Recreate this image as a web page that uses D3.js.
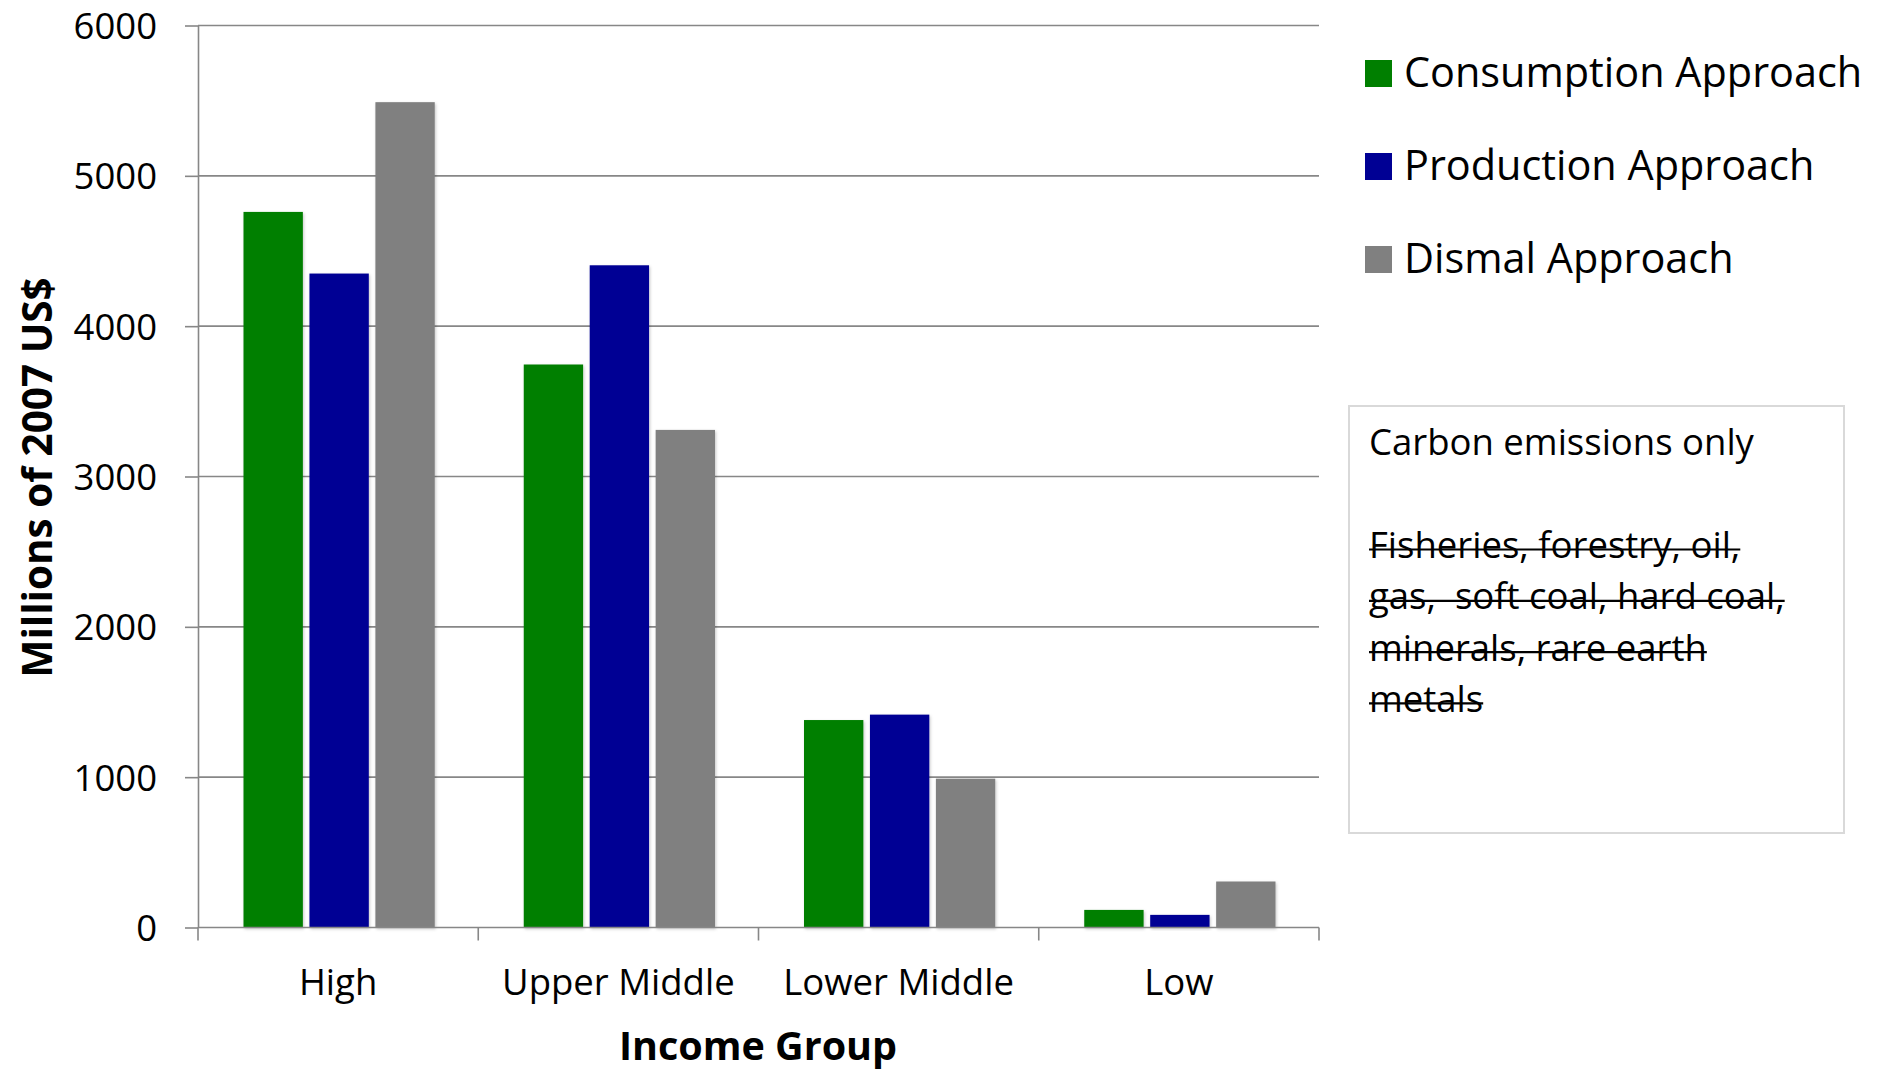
<!DOCTYPE html>
<html>
<head>
<meta charset="utf-8">
<script src="https://cdn.jsdelivr.net/npm/d3@7"></script>
<style>
  html, body { margin: 0; padding: 0; background: #fff; }
  svg { display: block; font-family: "Open Sans", sans-serif; }
  .keep-space { white-space: pre; }
</style>
</head>
<body>
<svg id="chart" width="1883" height="1071"></svg>
<script>
// Income groups along the x axis
const categories = ["High", "Upper Middle", "Lower Middle", "Low"];

// Series values, millions of 2007 US$
const consumption = [4760, 3745, 1380, 117];
const production  = [4350, 4405, 1416, 84];
const dismal      = [5490, 3310, 990, 306];

const seriesNames  = ["Consumption Approach", "Production Approach", "Dismal Approach"];
const seriesColors = ["#007f00", "#000094", "#808080"];

// Y axis ticks
const yTicks = [0, 1000, 2000, 3000, 4000, 5000, 6000];

// Note box text
const noteTitle = "Carbon emissions only";
const noteStruck = ["Fisheries, forestry, oil,", "gas,  soft coal, hard coal,", "minerals, rare earth", "metals"];

const seriesValues = [consumption, production, dismal];
const rows = categories.map((c, i) => ({
  category: c,
  values: seriesNames.map((s, k) => ({ series: s, value: seriesValues[k][i], color: seriesColors[k] }))
}));

const svg = d3.select("#chart");
const plot = { left: 198, right: 1319, top: 25.5, bottom: 927.5 };
const gridColor = "#878787";

const x = d3.scaleBand().domain(categories).range([plot.left, plot.right]).paddingInner(0).paddingOuter(0);
const xInner = d3.scaleBand().domain(seriesNames).range([45.5, x.bandwidth() - 43.5]).paddingInner(0.1);
const y = d3.scaleLinear().domain([0, 6000]).range([plot.bottom, plot.top]);

// soft shadow under bars
const defs = svg.append("defs");
const f = defs.append("filter").attr("id", "barShadow").attr("x", "-10%").attr("y", "-10%").attr("width", "130%").attr("height", "130%");
f.append("feDropShadow").attr("dx", 1).attr("dy", 1.5).attr("stdDeviation", 1.5).attr("flood-color", "#000").attr("flood-opacity", 0.22);

// horizontal gridlines
svg.append("g").selectAll("line").data(yTicks.filter(d => d > 0)).join("line")
  .attr("x1", plot.left).attr("x2", plot.right)
  .attr("y1", d => y(d)).attr("y2", d => y(d))
  .attr("stroke", gridColor).attr("stroke-width", 1.6);

// bars
svg.append("g").selectAll("g").data(rows).join("g")
  .attr("transform", d => `translate(${x(d.category)},0)`)
  .selectAll("rect").data(d => d.values).join("rect")
  .attr("x", d => xInner(d.series))
  .attr("width", xInner.bandwidth())
  .attr("y", d => y(d.value))
  .attr("height", d => y(0) - y(d.value))
  .attr("fill", d => d.color)
  .attr("filter", "url(#barShadow)");

// y axis
const yAxis = svg.append("g").attr("transform", `translate(${plot.left},0)`)
  .call(d3.axisLeft(y).tickValues(yTicks).tickFormat(d3.format("d")).tickSize(13).tickPadding(28).tickSizeOuter(0));
yAxis.select(".domain").attr("stroke", gridColor).attr("stroke-width", 1.6);
yAxis.selectAll(".tick line").attr("stroke", gridColor).attr("stroke-width", 1.6);
yAxis.selectAll(".tick text").attr("font-size", 36.5).attr("font-family", "Open Sans").attr("fill", "#000").attr("dy", "0.36em");

// x axis with ticks at category boundaries
const xAxis = svg.append("g").attr("transform", `translate(0,${plot.bottom})`);
xAxis.append("line").attr("x1", plot.left).attr("x2", plot.right).attr("y1", 0).attr("y2", 0)
  .attr("stroke", gridColor).attr("stroke-width", 1.6);
const bounds = categories.map(c => x(c)).concat([x.range()[1]]);
xAxis.selectAll("line.tk").data(bounds).join("line").attr("class", "tk")
  .attr("x1", d => d).attr("x2", d => d).attr("y1", 0).attr("y2", 13)
  .attr("stroke", gridColor).attr("stroke-width", 1.6);
xAxis.selectAll("text").data(categories).join("text")
  .attr("x", d => x(d) + x.bandwidth() / 2).attr("y", 67.5)
  .attr("text-anchor", "middle").attr("font-size", 36.5).attr("fill", "#000")
  .text(d => d);

// axis titles
svg.append("text").attr("x", 758).attr("y", 1060).attr("text-anchor", "middle")
  .attr("font-size", 39.5).attr("font-weight", 700).text("Income Group");
svg.append("text").attr("transform", "translate(51.5,477.5) rotate(-90)").attr("text-anchor", "middle")
  .attr("font-size", 40.5).attr("font-weight", 700).text("Millions of 2007 US$");

// legend
const legend = svg.append("g").selectAll("g").data(seriesNames).join("g")
  .attr("transform", (d, i) => `translate(1365,${60 + i * 93})`);
legend.append("rect").attr("width", 27).attr("height", 27).attr("fill", (d, i) => seriesColors[i]);
legend.append("text").attr("x", 39).attr("y", 27).attr("font-size", 41.4).attr("fill", "#000").text(d => d);

// note box
const note = svg.append("g");
note.append("rect").attr("x", 1349).attr("y", 406).attr("width", 495).attr("height", 427)
  .attr("fill", "#fff").attr("stroke", "#d9d9d9").attr("stroke-width", 2);
note.append("text").attr("x", 1369).attr("y", 455).attr("font-size", 36.5).attr("fill", "#000").text(noteTitle);
noteStruck.forEach((line, i) => {
  const by = 558 + i * 51.3;
  const t = note.append("text").attr("class", "keep-space").attr("xml:space", "preserve")
    .attr("x", 1369).attr("y", by).attr("font-size", 36.5).attr("fill", "#000").text(line);
  const w = t.node().getComputedTextLength();
  note.append("line").attr("x1", 1369).attr("x2", 1369 + w).attr("y1", by - 8.5).attr("y2", by - 8.5)
    .attr("stroke", "#000").attr("stroke-width", 2.2);
});
</script>
</body>
</html>
